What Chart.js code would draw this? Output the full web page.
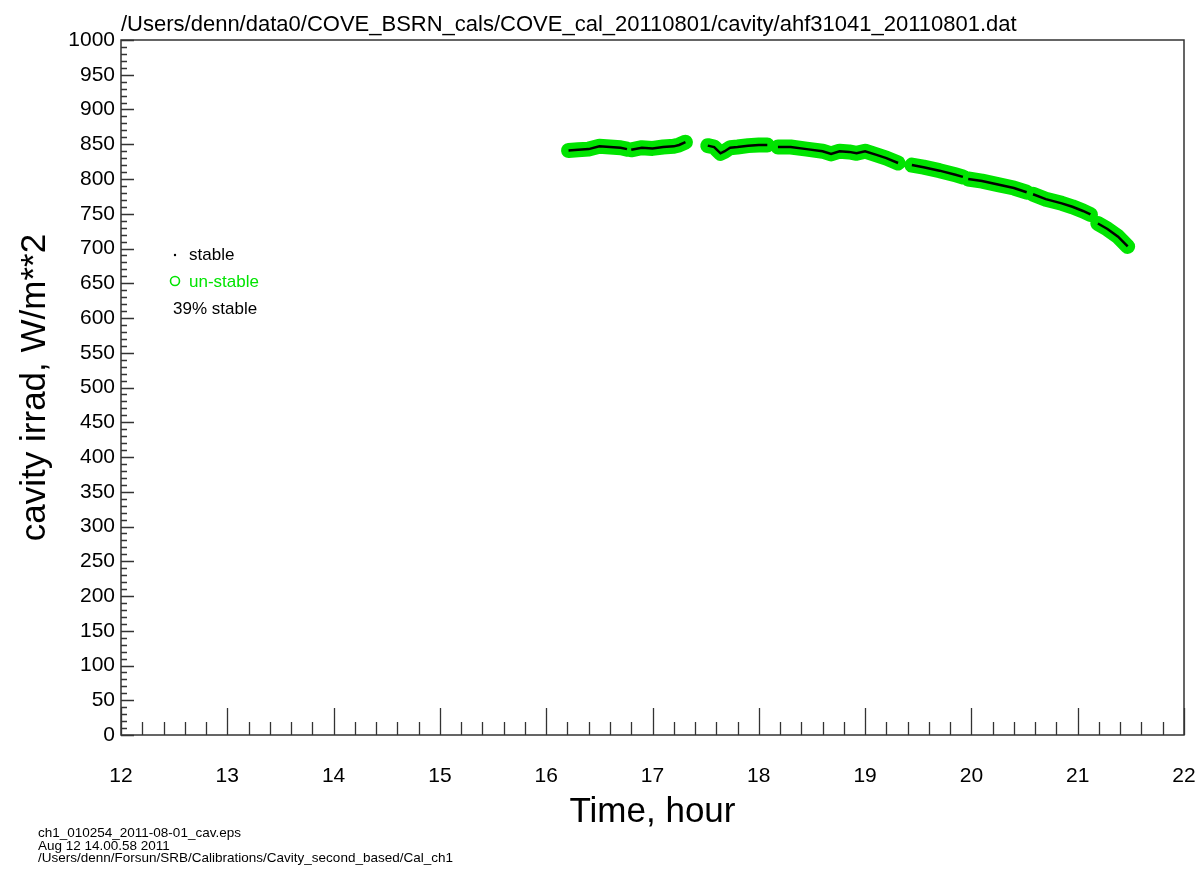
<!DOCTYPE html>
<html>
<head>
<meta charset="utf-8">
<title>cavity irradiance</title>
<script src="https://cdn.jsdelivr.net/npm/chart.js@4"></script>
<style>
  body { margin: 0; background: #fff; }
  #wrap { width: 1203px; height: 874px; position: relative; }
</style>
</head>
<body>
<div id="wrap"><canvas id="cav"></canvas></div>
<script>
// Time of each reading (hour), null value = break in the record
const hours = [
  16.21, 16.30, 16.40, 16.50, 16.60, 16.70, 16.76, 16.78,
  16.80, 16.90, 17.00, 17.10, 17.20, 17.25, 17.31, 17.42,
  17.52, 17.58, 17.64, 17.68, 17.73, 17.80, 17.90, 18.00, 18.08, 18.13,
  18.18, 18.30, 18.45, 18.60, 18.68, 18.76, 18.85, 18.92, 19.00, 19.10, 19.20, 19.31, 19.38,
  19.44, 19.55, 19.70, 19.85, 19.92, 19.95,
  19.97, 20.10, 20.25, 20.40, 20.52, 20.55,
  20.58, 20.70, 20.85, 20.95, 21.05, 21.12, 21.16,
  21.19, 21.28, 21.38, 21.47
];
// cavity irradiance, W/m**2
const irradiance = [
  841, 842, 843, 847, 846, 845, 843, null,
  842, 845, 844, 846, 847, 849, 853, null,
  848, 846, 837, 840, 845, 846, 848, 849, 849, null,
  846, 846, 843, 840, 836, 840, 839, 837, 840, 835, 830, 823, null,
  820, 817, 812, 806, 803, null,
  800, 797, 792, 787, 781, null,
  778, 771, 765, 760, 754, 749, null,
  736, 728, 717, 703
];

const xTicks = [12, 13, 14, 15, 16, 17, 18, 19, 20, 21, 22];
const yTicks = [0, 50, 100, 150, 200, 250, 300, 350, 400, 450, 500, 550, 600, 650, 700, 750, 800, 850, 900, 950, 1000];

const fileTitle = "/Users/denn/data0/COVE_BSRN_cals/COVE_cal_20110801/cavity/ahf31041_20110801.dat";
const footerLines = [
  "ch1_010254_2011-08-01_cav.eps",
  "Aug 12 14.00.58 2011",
  "/Users/denn/Forsun/SRB/Calibrations/Cavity_second_based/Cal_ch1"
];
const stablePct = "39% stable";

const points = hours.map((h, i) => ({ x: h, y: irradiance[i] }));
const FONT = "'Liberation Sans', Arial, Helvetica, sans-serif";
const GREEN = "rgb(0,228,0)";

// frame, inward ticks, legend and header/footer text
const decor = {
  id: "decor",
  afterDraw(chart) {
    const ctx = chart.ctx;
    const a = chart.chartArea;
    const xs = chart.scales.x, ys = chart.scales.y;
    ctx.save();
    ctx.strokeStyle = "#333";
    ctx.lineWidth = 1.5;
    ctx.strokeRect(a.left, a.top, a.right - a.left, a.bottom - a.top);

    ctx.lineWidth = 1.3;
    ctx.beginPath();
    for (let k = 0; k <= 50; k++) {
      const v = 12 + k * 0.2;
      const px = Math.round(xs.getPixelForValue(v)) + 0.5;
      const len = k % 5 === 0 ? 27 : 13;
      ctx.moveTo(px, a.bottom);
      ctx.lineTo(px, a.bottom - len);
    }
    for (let k = 0; k <= 100; k++) {
      const py = Math.round(ys.getPixelForValue(k * 10)) + 0.5;
      const len = k % 5 === 0 ? 13 : 6;
      ctx.moveTo(a.left, py);
      ctx.lineTo(a.left + len, py);
    }
    ctx.stroke();

    // header
    ctx.fillStyle = "#000";
    ctx.font = "22px " + FONT;
    ctx.textAlign = "left";
    ctx.textBaseline = "alphabetic";
    ctx.fillText(fileTitle, a.left, 31);

    // legend
    ctx.font = "17px " + FONT;
    ctx.textBaseline = "middle";
    ctx.beginPath();
    ctx.arc(175, 255, 1.2, 0, Math.PI * 2);
    ctx.fill();
    ctx.fillText("stable", 189, 255);
    ctx.strokeStyle = GREEN;
    ctx.lineWidth = 1.6;
    ctx.beginPath();
    ctx.arc(175, 281, 4.5, 0, Math.PI * 2);
    ctx.stroke();
    ctx.fillStyle = GREEN;
    ctx.fillText("un-stable", 189, 282);
    ctx.fillStyle = "#000";
    ctx.fillText(stablePct, 173, 309);

    // footer
    ctx.font = "13.5px " + FONT;
    ctx.textBaseline = "alphabetic";
    footerLines.forEach((t, i) => ctx.fillText(t, 38, 837 + i * 12.5));
    ctx.restore();
  }
};

new Chart(document.getElementById("cav"), {
  type: "line",
  data: {
    datasets: [
      {
        label: "stable",
        data: points,
        borderColor: "#000",
        borderWidth: 2.5,
        pointRadius: 0,
        spanGaps: false,
        order: 1
      },
      {
        label: "un-stable",
        data: points,
        borderColor: GREEN,
        borderWidth: 15,
        borderCapStyle: "round",
        borderJoinStyle: "round",
        pointRadius: 0,
        spanGaps: false,
        order: 2
      }
    ]
  },
  options: {
    responsive: true,
    maintainAspectRatio: false,
    animation: false,
    layout: { padding: { top: 40, right: 19, left: 0, bottom: 0 } },
    plugins: { legend: { display: false }, tooltip: { enabled: false } },
    scales: {
      x: {
        type: "linear",
        min: 12,
        max: 22,
        afterFit: s => { s.height = 139; s.paddingLeft = 0; s.paddingRight = 0; },
        afterBuildTicks: s => { s.ticks = xTicks.map(v => ({ value: v })); },
        grid: { display: false, drawTicks: false },
        border: { display: false },
        ticks: { color: "#000", font: { family: FONT, size: 21 }, padding: 29, callback: v => String(v) },
        title: {
          display: true,
          text: "Time, hour",
          color: "#000",
          font: { family: FONT, size: 35 },
          padding: { top: 0, bottom: 41 }
        }
      },
      y: {
        min: 0,
        max: 1000,
        afterFit: s => { s.width = 121; s.paddingTop = 0; s.paddingBottom = 0; },
        afterBuildTicks: s => { s.ticks = yTicks.map(v => ({ value: v })); },
        grid: { display: false, drawTicks: false },
        border: { display: false },
        ticks: { color: "#000", font: { family: FONT, size: 21 }, padding: 6, callback: v => String(v) },
        title: {
          display: true,
          text: "cavity irrad, W/m**2",
          color: "#000",
          font: { family: FONT, size: 35 },
          padding: { top: 14, bottom: 0 }
        }
      }
    }
  },
  plugins: [decor]
});
</script>
</body>
</html>
